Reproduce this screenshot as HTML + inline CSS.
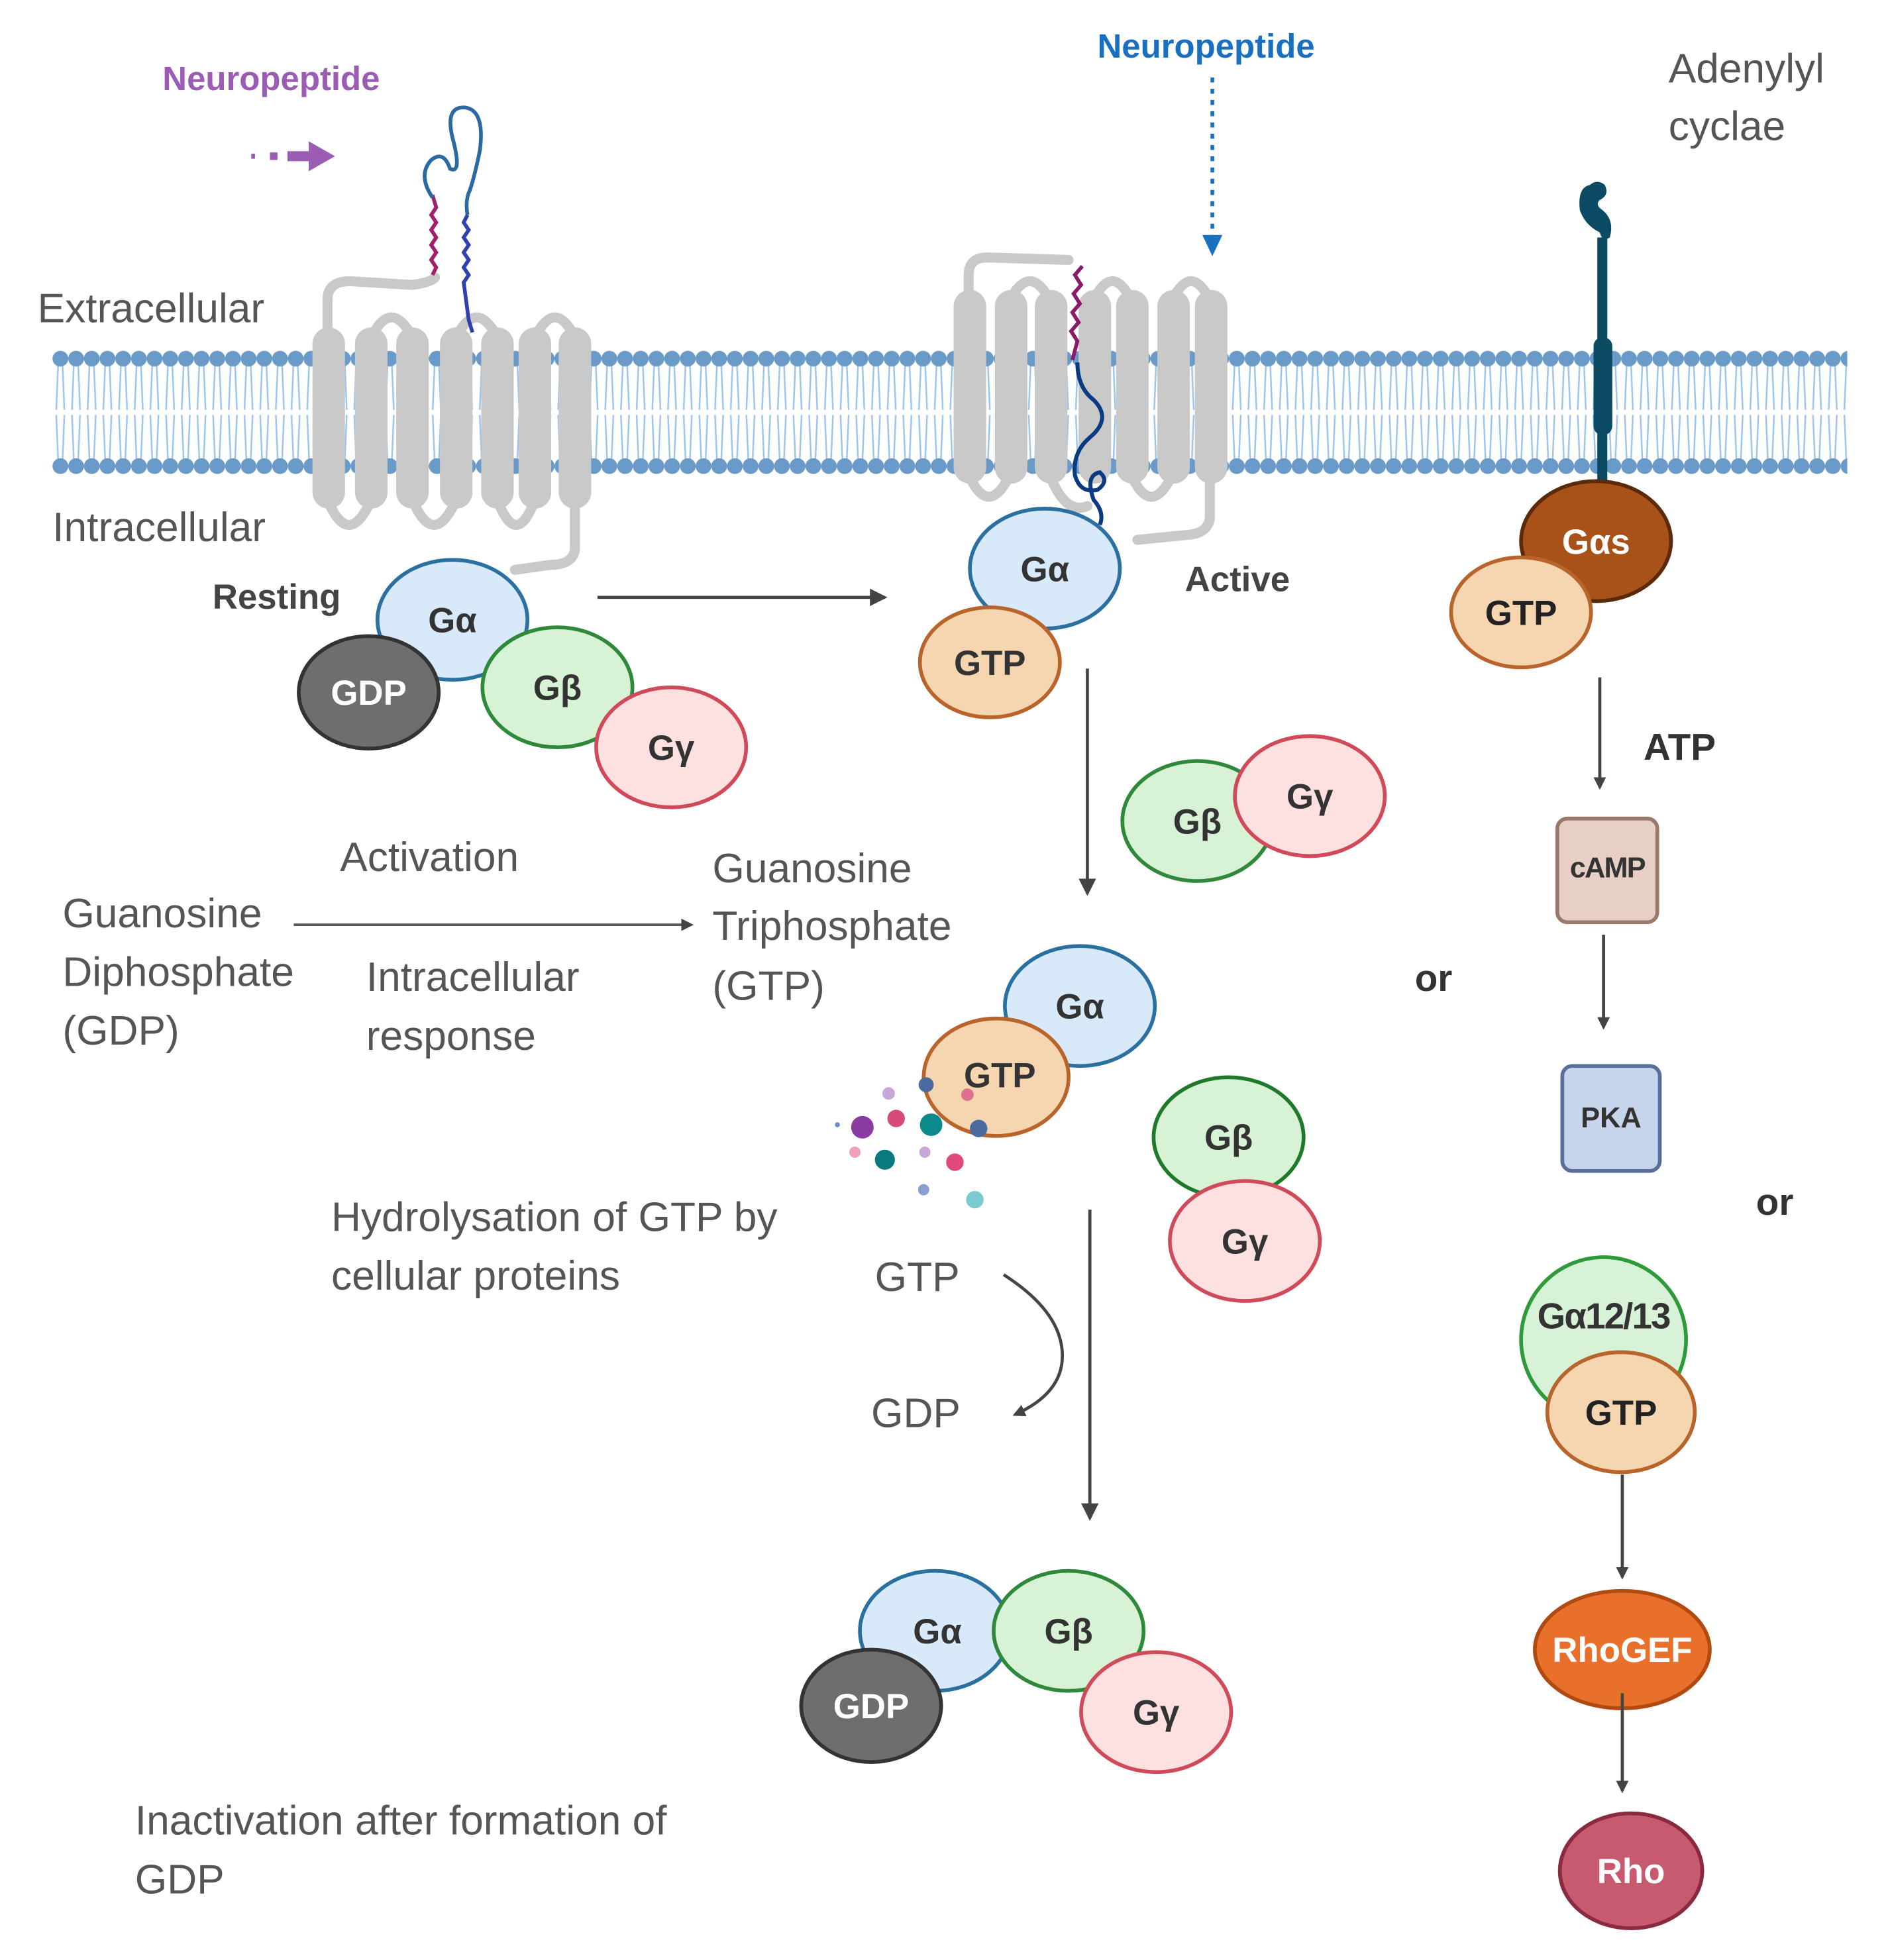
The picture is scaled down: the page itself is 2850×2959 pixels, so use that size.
<!DOCTYPE html>
<html><head><meta charset="utf-8"><style>html,body{margin:0;padding:0;background:#fff}svg{display:block}</style></head>
<body>
<svg width="2850" height="2959" viewBox="0 0 1500 1557.4" xmlns="http://www.w3.org/2000/svg" font-family="Liberation Sans, sans-serif">
<defs>
<pattern id="lip" patternUnits="userSpaceOnUse" x="42" y="280" width="12.55" height="100">
<g stroke="#9cc4ec" stroke-width="1.3" fill="none">
<path d="M4.5 12 L3 48 M8 12 L9.5 48 M3 52 L4.5 88 M9.5 52 L8 88"/>
</g>
<circle cx="6.3" cy="7" r="6.3" fill="#6a9ac7"/>
<circle cx="6.3" cy="93" r="6.3" fill="#6a9ac7"/>
</pattern>
<marker id="ah" markerWidth="10" markerHeight="10" refX="8" refY="5" orient="auto" markerUnits="userSpaceOnUse"><path d="M0 0 L10 5 L0 10 Z" fill="#444"/></marker>
<marker id="ahb" markerWidth="14" markerHeight="14" refX="12" refY="7" orient="auto" markerUnits="userSpaceOnUse"><path d="M0 0 L14 7 L0 14 Z" fill="#444"/></marker>
</defs>
<g transform="scale(0.993)">
<!-- membrane -->
<rect x="42" y="280" width="1436" height="100" fill="url(#lip)"/>

<!-- left receptor -->
<g fill="none" stroke="#c9c9c9" stroke-width="8" stroke-linecap="round">
<path d="M262 280 L262 240 Q262 225 280 225 L330 228 Q345 226 348 222"/>
<path d="M297 270 Q313 238 330 270"/>
<path d="M365 270 Q381 238 398 270"/>
<path d="M428 270 Q444 238 460 270"/>
<path d="M262 400 Q279 440 297 400"/>
<path d="M330 400 Q347 440 365 400"/>
<path d="M398 400 Q413 440 428 400"/>
<path d="M460 400 L460 440 Q458 452 440 452 L412 456"/>
</g>
<g fill="#c9c9c9">
<rect x="250" y="262" width="26" height="145" rx="13"/>
<rect x="284" y="262" width="26" height="145" rx="13"/>
<rect x="317" y="262" width="26" height="145" rx="13"/>
<rect x="352" y="262" width="26" height="145" rx="13"/>
<rect x="385" y="262" width="26" height="145" rx="13"/>
<rect x="415" y="262" width="26" height="145" rx="13"/>
<rect x="447" y="262" width="26" height="145" rx="13"/>
</g>
<path d="M346 220 l3 -6 -4 -6 4 -6 -4 -6 4 -6 -4 -6 4 -6 -4 -6 4 -6 -3 -10" fill="none" stroke="#a0206a" stroke-width="3"/>
<path d="M346 158 Q334 140 345 128 Q355 120 360 135 Q370 140 362 110 Q356 85 372 86 Q388 88 384 120 Q380 140 376 152 Q372 160 374 172" fill="none" stroke="#2a6aa0" stroke-width="3"/>
<path d="M374 172 l-3 6 4 6 -4 6 4 6 -4 6 4 6 -4 6 4 6 -4 6 4 30 3 10" fill="none" stroke="#3040b0" stroke-width="3"/>
<text x="130" y="72" font-size="27" font-weight="bold" fill="#9b5cb4">Neuropeptide</text>
<g fill="#9b5cb4"><rect x="201" y="123" width="3" height="4"/><rect x="216" y="122" width="6" height="6"/><rect x="230" y="121" width="20" height="8"/><path d="M247 113 L268 125 L247 137 Z"/></g>

<!-- middle receptor -->
<g fill="none" stroke="#c9c9c9" stroke-width="8" stroke-linecap="round">
<path d="M775 240 L775 220 Q775 206 790 206 L855 208"/>
<path d="M808 240 Q824 210 840 240"/>
<path d="M875 240 Q890 210 905 240"/>
<path d="M938 240 Q953 210 968 240"/>
<path d="M775 380 Q791 415 808 380"/>
<path d="M840 380 Q852 412 870 405"/>
<path d="M905 380 Q921 415 938 380"/>
<path d="M968 380 L968 415 Q966 427 950 428 L910 432"/>
</g>
<g fill="#c9c9c9">
<rect x="763" y="232" width="26" height="155" rx="13"/>
<rect x="796" y="232" width="26" height="155" rx="13"/>
<rect x="828" y="232" width="26" height="155" rx="13"/>
<rect x="863" y="232" width="26" height="155" rx="13"/>
<rect x="893" y="232" width="26" height="155" rx="13"/>
<rect x="926" y="232" width="26" height="155" rx="13"/>
<rect x="956" y="232" width="26" height="155" rx="13"/>
</g>
<path d="M866 213 l-6 7 5 8 -6 7 5 8 -6 7 5 8 -6 7 5 8 -4 15" fill="none" stroke="#8a1a6a" stroke-width="3"/>
<path d="M862 290 Q862 310 875 320 Q890 335 872 350 Q858 362 860 380 Q864 395 878 392 Q888 385 880 378 Q868 380 875 400 Q884 410 880 420" fill="none" stroke="#0a3a80" stroke-width="3.2"/>
<text x="878" y="46" font-size="27" font-weight="bold" fill="#1a70c0">Neuropeptide</text>
<line x1="970" y1="62" x2="970" y2="190" stroke="#1a70c0" stroke-width="3" stroke-dasharray="4 5"/>
<path d="M962 188 L978 188 L970 205 Z" fill="#1a70c0"/>

<!-- adenylyl cyclase -->
<text x="1335" y="66" font-size="33" fill="#555">Adenylyl</text>
<text x="1335" y="112" font-size="33" fill="#555">cyclae</text>
<g fill="#0a4a62">
<rect x="1278" y="190" width="8" height="195"/>
<rect x="1275" y="270" width="15" height="78" rx="7"/>
<path d="M1272 148 Q1262 150 1264 168 Q1268 180 1280 186 Q1282 194 1288 190 Q1292 176 1282 168 Q1276 164 1280 160 Q1288 156 1284 148 Q1278 143 1272 148 Z"/>
</g>
<ellipse cx="1277" cy="433" rx="60" ry="48" fill="#a8521a" stroke="#5a2a0a" stroke-width="3"/>
<text x="1277" y="443" font-size="28" font-weight="bold" fill="#fff" text-anchor="middle">Gαs</text>
<ellipse cx="1217" cy="490" rx="56" ry="44" fill="#f5d6b0" stroke="#b8642a" stroke-width="3"/>
<text x="1217" y="500" font-size="28" font-weight="bold" fill="#222" text-anchor="middle">GTP</text>
<line x1="1280" y1="542" x2="1280" y2="630" stroke="#444" stroke-width="2.5" marker-end="url(#ah)"/>
<text x="1315" y="608" font-size="30" font-weight="bold" fill="#333">ATP</text>
<rect x="1246" y="655" width="80" height="83" rx="8" fill="#e8cfc5" stroke="#9a786a" stroke-width="3"/>
<text x="1286" y="702" font-size="23" font-weight="bold" fill="#333" text-anchor="middle" letter-spacing="-1">cAMP</text>
<line x1="1283" y1="748" x2="1283" y2="822" stroke="#444" stroke-width="2.5" marker-end="url(#ah)"/>
<rect x="1250" y="853" width="78" height="84" rx="8" fill="#c6d4ec" stroke="#5a6e9a" stroke-width="3"/>
<text x="1289" y="902" font-size="23" font-weight="bold" fill="#333" text-anchor="middle">PKA</text>
<text x="1132" y="793" font-size="30" font-weight="bold" fill="#333">or</text>
<text x="1405" y="972" font-size="30" font-weight="bold" fill="#333">or</text>
<circle cx="1283" cy="1072" r="66" fill="#d8f2d8" stroke="#2e9a3a" stroke-width="3"/>
<ellipse cx="1297" cy="1130" rx="59" ry="48" fill="#f5d6b0" stroke="#b8642a" stroke-width="3"/>
<text x="1283" y="1063" font-size="29" font-weight="bold" fill="#333" text-anchor="middle" letter-spacing="-1">Gα12/13</text>
<text x="1297" y="1140" font-size="28" font-weight="bold" fill="#222" text-anchor="middle">GTP</text>
<line x1="1298" y1="1180" x2="1298" y2="1262" stroke="#444" stroke-width="2.5" marker-end="url(#ah)"/>
<ellipse cx="1298" cy="1320" rx="70" ry="47" fill="#e8702a" stroke="#b04a10" stroke-width="3"/>
<text x="1298" y="1330" font-size="28" font-weight="bold" fill="#fff" text-anchor="middle">RhoGEF</text>
<line x1="1298" y1="1355" x2="1298" y2="1433" stroke="#444" stroke-width="2.5" marker-end="url(#ah)"/>
<ellipse cx="1305" cy="1497" rx="57" ry="46" fill="#c85a70" stroke="#8a2a40" stroke-width="3"/>
<text x="1305" y="1507" font-size="28" font-weight="bold" fill="#fff" text-anchor="middle">Rho</text>

<!-- left labels -->
<g font-size="33" fill="#555">
<text x="30" y="258">Extracellular</text>
<text x="42" y="433">Intracellular</text>
<text x="272" y="697">Activation</text>
<text x="50" y="742">Guanosine</text>
<text x="50" y="789">Diphosphate</text>
<text x="50" y="836">(GDP)</text>
<text x="293" y="793">Intracellular</text>
<text x="293" y="840">response</text>
<text x="570" y="706">Guanosine</text>
<text x="570" y="752">Triphosphate</text>
<text x="570" y="800">(GTP)</text>
<text x="265" y="985">Hydrolysation of GTP by</text>
<text x="265" y="1032">cellular proteins</text>
<text x="700" y="1033">GTP</text>
<text x="697" y="1142">GDP</text>
<text x="108" y="1468">Inactivation after formation of</text>
<text x="108" y="1515">GDP</text>
</g>
<text x="170" y="487" font-size="28" font-weight="bold" fill="#444">Resting</text>
<text x="948" y="473" font-size="28" font-weight="bold" fill="#444">Active</text>

<!-- resting complex -->
<g stroke-width="3">
<ellipse cx="362" cy="496" rx="60" ry="48" fill="#d8eaf9" stroke="#2a70a0"/>
<ellipse cx="295" cy="554" rx="56" ry="45" fill="#6e6e6e" stroke="#333"/>
<ellipse cx="446" cy="550" rx="60" ry="48" fill="#d8f2d6" stroke="#2e8a3a"/>
<ellipse cx="537" cy="598" rx="60" ry="48" fill="#fde0e0" stroke="#d04a5a"/>
</g>
<g font-size="28" font-weight="bold" text-anchor="middle" fill="#333">
<text x="362" y="506">Gα</text>
<text x="295" y="564" fill="#fff">GDP</text>
<text x="446" y="560">Gβ</text>
<text x="537" y="608">Gγ</text>
</g>
<line x1="478" y1="478" x2="708" y2="478" stroke="#444" stroke-width="2.5" marker-end="url(#ahb)"/>

<!-- active -->
<g stroke-width="3">
<ellipse cx="836" cy="455" rx="60" ry="48" fill="#d8eaf9" stroke="#2a70a0"/>
<ellipse cx="792" cy="530" rx="56" ry="44" fill="#f5d6b0" stroke="#b8642a"/>
<ellipse cx="958" cy="657" rx="60" ry="48" fill="#d8f2d6" stroke="#2e8a3a"/>
<ellipse cx="1048" cy="637" rx="60" ry="48" fill="#fde0e0" stroke="#d04a5a"/>
</g>
<g font-size="28" font-weight="bold" text-anchor="middle" fill="#333">
<text x="836" y="465">Gα</text>
<text x="792" y="540">GTP</text>
<text x="958" y="667">Gβ</text>
<text x="1048" y="647">Gγ</text>
</g>
<line x1="870" y1="535" x2="870" y2="715" stroke="#444" stroke-width="2.5" marker-end="url(#ahb)"/>
<line x1="235" y1="740" x2="553" y2="740" stroke="#555" stroke-width="2" marker-end="url(#ah)"/>

<!-- hydrolysis -->
<g stroke-width="3">
<ellipse cx="864" cy="805" rx="60" ry="48" fill="#d8eaf9" stroke="#2a70a0"/>
<ellipse cx="797" cy="862" rx="58" ry="47" fill="#f5d6b0" stroke="#b8642a"/>
<ellipse cx="983" cy="910" rx="60" ry="48" fill="#d8f2d6" stroke="#1e7a2a"/>
<ellipse cx="996" cy="993" rx="60" ry="48" fill="#fde0e0" stroke="#d04a5a"/>
</g>
<g font-size="28" font-weight="bold" text-anchor="middle" fill="#333">
<text x="864" y="815">Gα</text>
<text x="800" y="870">GTP</text>
<text x="983" y="920">Gβ</text>
<text x="996" y="1003">Gγ</text>
</g>
<g>
<circle cx="741" cy="868" r="6" fill="#4a6aa0"/>
<circle cx="783" cy="903" r="7" fill="#4a6aa0"/>
<circle cx="774" cy="876" r="5" fill="#e07090"/>
<circle cx="711" cy="875" r="5" fill="#c8a8d8"/>
<circle cx="690" cy="902" r="9" fill="#8a3aa0"/>
<circle cx="717" cy="895" r="7" fill="#d84a7a"/>
<circle cx="745" cy="900" r="9" fill="#0a8a8a"/>
<circle cx="708" cy="928" r="8" fill="#0a7a80"/>
<circle cx="684" cy="922" r="4.5" fill="#f0a0b8"/>
<circle cx="740" cy="922" r="4.5" fill="#c8a8d8"/>
<circle cx="764" cy="930" r="7" fill="#e04a7a"/>
<circle cx="739" cy="952" r="4.5" fill="#8aa0d0"/>
<circle cx="780" cy="960" r="7" fill="#7acad0"/>
<circle cx="670" cy="900" r="2" fill="#6a8ad0"/>
</g>
<path d="M803 1020 Q850 1050 850 1085 Q850 1115 812 1132" fill="none" stroke="#444" stroke-width="2.5" marker-end="url(#ah)"/>
<line x1="872" y1="968" x2="872" y2="1215" stroke="#444" stroke-width="2.5" marker-end="url(#ahb)"/>

<!-- bottom complex -->
<g stroke-width="3">
<ellipse cx="748" cy="1305" rx="60" ry="48" fill="#d8eaf9" stroke="#2a70a0"/>
<ellipse cx="855" cy="1305" rx="60" ry="48" fill="#d8f2d6" stroke="#2e8a3a"/>
<ellipse cx="697" cy="1365" rx="56" ry="45" fill="#6e6e6e" stroke="#333"/>
<ellipse cx="925" cy="1370" rx="60" ry="48" fill="#fde0e0" stroke="#d04a5a"/>
</g>
<g font-size="28" font-weight="bold" text-anchor="middle" fill="#333">
<text x="750" y="1315">Gα</text>
<text x="855" y="1315">Gβ</text>
<text x="697" y="1375" fill="#fff">GDP</text>
<text x="925" y="1380">Gγ</text>
</g>
</g>
</svg>
</body></html>
